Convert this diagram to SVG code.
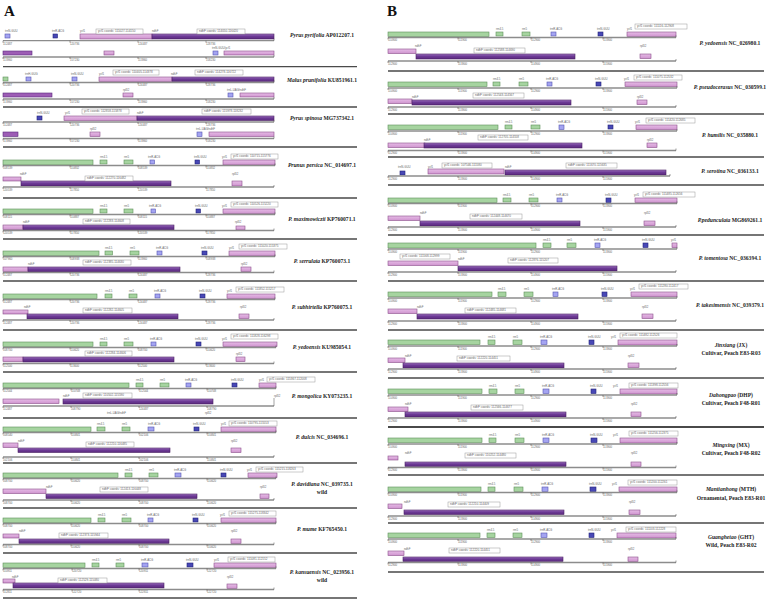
<svg xmlns="http://www.w3.org/2000/svg" width="778" height="602" viewBox="0 0 778 602">
<defs>
<linearGradient id="ng" x1="0" y1="0" x2="0" y2="1"><stop offset="0" stop-color="#a47cc4"/><stop offset="0.4" stop-color="#6f3c98"/><stop offset="1" stop-color="#5a2a7e"/></linearGradient>
<linearGradient id="pg" x1="0" y1="0" x2="0" y2="1"><stop offset="0" stop-color="#e6bce6"/><stop offset="1" stop-color="#cf94cf"/></linearGradient>
<style>
.g{fill:#a6d4a0;stroke:#5f8f5a;stroke-width:.6}
.b{fill:#a4a4f2;stroke:#5555b0;stroke-width:.6}
.d{fill:#4848b6;stroke:#22227a;stroke-width:.6}
.p{fill:url(#pg);stroke:#8a4f8a;stroke-width:.6}
.m{fill:#9d5db5;stroke:#5a2a7e;stroke-width:.6}
.n{fill:url(#ng);stroke:#4a2063;stroke-width:.6}
.ax{stroke:#8c8c8c;stroke-width:1.3;fill:none}
.tk{stroke:#444;stroke-width:.5;fill:none}
.sep{stroke:#4a4a4a;stroke-width:1.3}
.t{font-family:"Liberation Sans",Arial,sans-serif;font-size:2.8px;fill:#666}
.co{fill:#fff;stroke:#999;stroke-width:.5}
.ct{font-family:"Liberation Sans",Arial,sans-serif;font-size:3px;fill:#666}
.nm{font-family:"Liberation Serif","Times New Roman",serif;font-size:5.6px;font-weight:bold;fill:#222;text-anchor:middle}
.it{font-style:italic}
.hd{font-family:"Liberation Serif","Times New Roman",serif;font-size:15px;font-weight:bold;fill:#111}
</style>
</defs>
<rect width="778" height="602" fill="#fff"/>
<text class="hd" x="4" y="16">A</text>
<text class="hd" x="387" y="16">B</text>

<!-- ================= PANEL A ================= -->
<g id="A1">
<text class="t" y="32"><tspan x="5">trnN-GUU</tspan><tspan x="52">trnR-ACG</tspan><tspan x="80">ycf1</tspan><tspan x="152">ndhF</tspan></text>
<rect class="b" x="5" y="34" width="5" height="4"/><rect class="d" x="53" y="34" width="4.5" height="4"/>
<rect class="p" x="80" y="34" width="72" height="5"/><rect class="n" x="152" y="34" width="122" height="5"/>
<rect class="co" x="96" y="29" width="47" height="5"/><text class="ct" x="98" y="32.4">ycf1 coords: 111027-114150</text>
<rect class="co" x="197" y="29" width="48" height="5"/><text class="ct" x="199" y="32.4">ndhF coords: 114050-116420</text>
<path class="ax" d="M3 40.7H274"/><path class="tk" d="M3 40.7v2M70 40.7v2M138 40.7v2M206 40.7v2M274 40.7v-2"/>
<text class="t" y="44.5"><tspan x="3">112487</tspan><tspan x="70">120736</tspan><tspan x="138">124487</tspan><tspan x="206">128736</tspan></text>
<text class="t" y="49"><tspan x="212">trnN-GUU/ycf1</tspan></text>
<rect class="m" x="3" y="51" width="29" height="4"/><rect class="p" x="104" y="51" width="10" height="4"/>
<rect class="b" x="213" y="51" width="5" height="4"/><rect class="p" x="224" y="51" width="50" height="4"/>
<path class="ax" d="M3 57H274"/><path class="tk" d="M3 57v2M70 57v2M138 57v2M206 57v2M274 57v-2"/>
<text class="t" y="60.7"><tspan x="3">113960</tspan><tspan x="70">157230</tspan><tspan x="138">113960</tspan><tspan x="206">158230</tspan></text>
<text class="nm" x="322" y="36.5"><tspan class="it">Pyrus pyrifolia</tspan> AP012207.1</text>
</g>

<g id="A2">
<text class="t" y="75"><tspan x="25">trnH-GUG</tspan><tspan x="71">trnN-GUU</tspan><tspan x="99">ycf1</tspan><tspan x="171">ndhF</tspan></text>
<rect class="g" x="3" y="77" width="5" height="4"/><rect class="b" x="26" y="77" width="5" height="4"/><rect class="b" x="72" y="77" width="5" height="4"/>
<rect class="p" x="99" y="77" width="73" height="4.5"/><rect class="n" x="172" y="77" width="102" height="4.5"/>
<rect class="co" x="113" y="70" width="46" height="5"/><text class="ct" x="115" y="73.4">ycf1 coords: 110405-114378</text>
<rect class="co" x="195" y="70" width="48" height="5"/><text class="ct" x="197" y="73.4">ndhF coords: 114278-116722</text>
<path class="ax" d="M3 82.5H274"/><path class="tk" d="M3 82.5v2M70 82.5v2M138 82.5v2M206 82.5v2M274 82.5v-2"/>
<text class="t" y="86.3"><tspan x="3">112487</tspan><tspan x="70">120736</tspan><tspan x="138">124487</tspan><tspan x="206">128736</tspan></text>
<text class="t" y="91"><tspan x="123">rpl32</tspan><tspan x="227">trnL-UAG/ndhF</tspan></text>
<rect class="m" x="3" y="93" width="49" height="4"/><rect class="p" x="123" y="93" width="10" height="4"/>
<rect class="b" x="228" y="93" width="5" height="4"/><rect class="p" x="240" y="93" width="34" height="4"/>
<path class="ax" d="M3 99H274"/><path class="tk" d="M3 99v2M70 99v2M138 99v2M206 99v2M274 99v-2"/>
<text class="t" y="102.7"><tspan x="3">113960</tspan><tspan x="70">157230</tspan><tspan x="138">113960</tspan><tspan x="206">158230</tspan></text>
<text class="nm" x="322" y="81.5"><tspan class="it">Malus prunifolia</tspan> KU851961.1</text>
</g>

<g id="A3">
<text class="t" y="114"><tspan x="37">trnN-GUU</tspan><tspan x="65">ycf1</tspan><tspan x="137">ndhF</tspan></text>
<rect class="d" x="37" y="116" width="5" height="4"/>
<rect class="p" x="64" y="116" width="73" height="4.5"/><rect class="n" x="137" y="116" width="137" height="4.5"/>
<rect class="co" x="82" y="109" width="47" height="5"/><text class="ct" x="84" y="112.4">ycf1 coords: 112858-115878</text>
<rect class="co" x="202" y="109" width="49" height="5"/><text class="ct" x="204" y="112.4">ndhF coords: 115978-118232</text>
<path class="ax" d="M3 122H274"/><path class="tk" d="M3 122v2M70 122v2M138 122v2M206 122v2M274 122v-2"/>
<text class="t" y="125.8"><tspan x="3">112487</tspan><tspan x="70">120736</tspan><tspan x="138">124487</tspan><tspan x="206">128736</tspan></text>
<text class="t" y="130"><tspan x="90">rpl32</tspan><tspan x="196">trnL-UAG/ndhF</tspan></text>
<rect class="m" x="3" y="132" width="15" height="4.5"/><rect class="p" x="90" y="132" width="10" height="4.5"/>
<rect class="b" x="197" y="132" width="5" height="4.5"/><rect class="p" x="209" y="132" width="65" height="4.5"/>
<path class="ax" d="M3 138.5H274"/><path class="tk" d="M3 138.5v2M70 138.5v2M138 138.5v2M206 138.5v2M274 138.5v-2"/>
<text class="t" y="142"><tspan x="3">113960</tspan><tspan x="70">157230</tspan><tspan x="138">113960</tspan><tspan x="206">158230</tspan></text>
<text class="nm" x="322" y="120"><tspan class="it">Pyrus spinosa</tspan> MG737342.1</text>
</g>

<g id="A4">
<text class="t" y="158"><tspan x="100">rrn4.5</tspan><tspan x="124">rrn5</tspan><tspan x="148">trnR-ACG</tspan><tspan x="194">trnN-GUU</tspan><tspan x="222">ycf1</tspan></text>
<rect class="g" x="3" y="160" width="90" height="5"/><rect class="g" x="100" y="160" width="7" height="4"/><rect class="g" x="124" y="160" width="9" height="4"/>
<rect class="b" x="150" y="160" width="4.5" height="4"/><rect class="d" x="195" y="160" width="4.5" height="4"/><rect class="p" x="223" y="160" width="52" height="5"/>
<rect class="co" x="231" y="154" width="47" height="5"/><text class="ct" x="233" y="157.4">ycf1 coords: 110715-115776</text>
<path class="ax" d="M3 165.5H275"/><path class="tk" d="M3 165.5v2M70 165.5v2M138 165.5v2M206 165.5v2M275 165.5v-2"/>
<text class="t" y="169.2"><tspan x="3">108539</tspan><tspan x="70">110832</tspan><tspan x="138">108539</tspan><tspan x="206">110832</tspan></text>
<text class="t" y="175"><tspan x="20">ndhF</tspan><tspan x="232">rpl32</tspan></text>
<rect class="p" x="3" y="177" width="18" height="4"/><rect class="n" x="21" y="181" width="150" height="5"/>
<rect class="co" x="85" y="176" width="48" height="5"/><text class="ct" x="87" y="179.4">ndhF coords: 112270-116482</text>
<rect class="p" x="232" y="181" width="10" height="5"/>
<path class="ax" d="M3 187H274"/><path class="tk" d="M3 187v2M70 187v2M138 187v2M206 187v2M274 187v-2"/>
<text class="t" y="190.7"><tspan x="3">120539</tspan><tspan x="70">117850</tspan><tspan x="138">120539</tspan><tspan x="206">117850</tspan></text>
<text class="nm" x="322" y="167"><tspan class="it">Prunus persica</tspan> NC_014697.1</text>
</g>

<g id="A5">
<text class="t" y="207"><tspan x="100">rrn4.5</tspan><tspan x="124">rrn5</tspan><tspan x="149">trnR-ACG</tspan><tspan x="195">trnN-GUU</tspan><tspan x="222">ycf1</tspan></text>
<rect class="g" x="3" y="209" width="90" height="4.5"/><rect class="g" x="100" y="209" width="7" height="4"/><rect class="g" x="124" y="209" width="9" height="4"/>
<rect class="b" x="151" y="209" width="4.5" height="4"/><rect class="d" x="196" y="209" width="4.5" height="4"/><rect class="p" x="223" y="209" width="52" height="4.5"/>
<rect class="co" x="231" y="202" width="47" height="5"/><text class="ct" x="233" y="205.4">ycf1 coords: 110526-115220</text>
<path class="ax" d="M3 214.5H275"/><path class="tk" d="M3 214.5v2M70 214.5v2M138 214.5v2M206 214.5v2M275 214.5v-2"/>
<text class="t" y="218.2"><tspan x="3">108115</tspan><tspan x="70">110887</tspan><tspan x="138">108115</tspan><tspan x="206">110887</tspan></text>
<text class="t" y="222.5"><tspan x="23">ndhF</tspan><tspan x="235">rpl32</tspan></text>
<rect class="p" x="3" y="225" width="20" height="4.5"/><rect class="n" x="23" y="225" width="151" height="5"/>
<rect class="co" x="83" y="219" width="47" height="5"/><text class="ct" x="85" y="222.4">ndhF coords: 112283-114608</text>
<rect class="p" x="236" y="226" width="9" height="4"/>
<path class="ax" d="M3 230.5H274"/><path class="tk" d="M3 230.5v2M70 230.5v2M138 230.5v2M206 230.5v2M274 230.5v-2"/>
<text class="t" y="234.2"><tspan x="3">120539</tspan><tspan x="70">117850</tspan><tspan x="138">120539</tspan><tspan x="206">117850</tspan></text>
<text class="nm" x="322" y="221"><tspan class="it">P. maximowiczii</tspan> KP760071.1</text>
</g>

<g id="A6">
<text class="t" y="249"><tspan x="105">rrn4.5</tspan><tspan x="130">rrn5</tspan><tspan x="156">trnR-ACG</tspan><tspan x="201">trnN-GUU</tspan><tspan x="229">ycf1</tspan></text>
<rect class="g" x="3" y="251" width="96" height="4.5"/><rect class="g" x="105" y="251" width="7.5" height="4"/><rect class="g" x="130" y="251" width="9" height="4"/>
<rect class="b" x="157" y="251" width="5" height="4"/><rect class="d" x="202" y="251" width="5" height="4"/><rect class="p" x="229" y="251" width="46" height="5"/>
<rect class="co" x="239" y="244" width="48" height="5"/><text class="ct" x="241" y="247.4">ycf1 coords: 111020-115375</text>
<path class="ax" d="M3 256.5H275"/><path class="tk" d="M3 256.5v2M70 256.5v2M138 256.5v2M206 256.5v2M275 256.5v-2"/>
<text class="t" y="260.2"><tspan x="3">107960</tspan><tspan x="70">108938</tspan><tspan x="138">113960</tspan><tspan x="206">108938</tspan></text>
<text class="t" y="265"><tspan x="28">ndhF</tspan><tspan x="241">rpl32</tspan></text>
<rect class="p" x="3" y="267" width="25" height="4.5"/><rect class="n" x="28" y="267" width="152" height="5"/>
<rect class="co" x="83" y="260" width="48" height="5"/><text class="ct" x="85" y="263.4">ndhF coords: 112385-114630</text>
<rect class="p" x="241" y="267" width="10" height="4.5"/>
<path class="ax" d="M3 272.5H274"/><path class="tk" d="M3 272.5v2M70 272.5v2M138 272.5v2M206 272.5v2M274 272.5v-2"/>
<text class="t" y="276.2"><tspan x="3">112487</tspan><tspan x="70">120736</tspan><tspan x="138">124487</tspan><tspan x="206">128736</tspan></text>
<text class="nm" x="322" y="263"><tspan class="it">P. serrulata</tspan> KP760073.1</text>
</g>

<g id="A7">
<text class="t" y="292"><tspan x="105">rrn4.5</tspan><tspan x="129">rrn5</tspan><tspan x="154">trnR-ACG</tspan><tspan x="199">trnN-GUU</tspan><tspan x="227">ycf1</tspan></text>
<rect class="g" x="3" y="294" width="94" height="4.5"/><rect class="g" x="105" y="294" width="7" height="4"/><rect class="g" x="129" y="294" width="8" height="4"/>
<rect class="b" x="155" y="294" width="5" height="4"/><rect class="d" x="200" y="294" width="5" height="4"/><rect class="p" x="227" y="294" width="48" height="4.5"/>
<rect class="co" x="236" y="287" width="48" height="5"/><text class="ct" x="238" y="290.4">ycf1 coords: 111852-115217</text>
<path class="ax" d="M3 299.5H275"/><path class="tk" d="M3 299.5v2M70 299.5v2M138 299.5v2M206 299.5v2M275 299.5v-2"/>
<text class="t" y="303"><tspan x="3">112487</tspan><tspan x="70">120736</tspan><tspan x="138">124487</tspan><tspan x="206">128736</tspan></text>
<text class="t" y="308"><tspan x="24">ndhF</tspan><tspan x="240">rpl32</tspan></text>
<rect class="p" x="3" y="310" width="25" height="4"/><rect class="n" x="27" y="314" width="151" height="5"/>
<rect class="co" x="83" y="308" width="49" height="5"/><text class="ct" x="85" y="311.4">ndhF coords: 112282-114605</text>
<rect class="p" x="239" y="314" width="10" height="4.5"/>
<path class="ax" d="M3 320H274"/><path class="tk" d="M3 320v2M70 320v2M138 320v2M206 320v2M274 320v-2"/>
<text class="t" y="323.7"><tspan x="3">112487</tspan><tspan x="70">120736</tspan><tspan x="138">124487</tspan><tspan x="206">128736</tspan></text>
<text class="nm" x="322" y="309"><tspan class="it">P. subhirtella</tspan> KP760075.1</text>
</g>

<g id="A8">
<text class="t" y="340"><tspan x="100">rrn4.5</tspan><tspan x="124">rrn5</tspan><tspan x="150">trnR-ACG</tspan><tspan x="195">trnN-GUU</tspan><tspan x="222">ycf1</tspan></text>
<rect class="g" x="3" y="342" width="90" height="4.5"/><rect class="g" x="100" y="342" width="7" height="4"/><rect class="g" x="124" y="342" width="9" height="4"/>
<rect class="b" x="151" y="342" width="5" height="4"/><rect class="d" x="196" y="342" width="5" height="4"/><rect class="p" x="223" y="342" width="54" height="4.5"/>
<rect class="co" x="231" y="334" width="47" height="5"/><text class="ct" x="233" y="337.4">ycf1 coords: 111828-116298</text>
<path class="ax" d="M3 347.5H276"/><path class="tk" d="M3 347.5v2M70 347.5v2M138 347.5v2M206 347.5v2M276 347.5v-2"/>
<text class="t" y="351.2"><tspan x="3">108700</tspan><tspan x="70">110620</tspan><tspan x="138">108700</tspan><tspan x="206">110620</tspan></text>
<text class="t" y="355"><tspan x="236">rpl32</tspan></text>
<rect class="p" x="3" y="357" width="20" height="4.5"/><rect class="n" x="23" y="357" width="151" height="5"/>
<rect class="co" x="85" y="351" width="47" height="5"/><text class="ct" x="87" y="354.4">ndhF coords: 112284-114606</text>
<rect class="p" x="236" y="357" width="9" height="4.5"/>
<path class="ax" d="M3 363.5H274"/><path class="tk" d="M3 363.5v2M70 363.5v2M138 363.5v2M206 363.5v2M274 363.5v-2"/>
<text class="t" y="367.2"><tspan x="3">112500</tspan><tspan x="70">113600</tspan><tspan x="138">112500</tspan><tspan x="206">113600</tspan></text>
<text class="nm" x="322" y="349"><tspan class="it">P. yedoensis</tspan>  KU985054.1</text>
</g>

<g id="A9">
<text class="t" y="381"><tspan x="136">rrn4.5</tspan><tspan x="160">rrn5</tspan><tspan x="185">trnR-ACG</tspan><tspan x="231">trnN-GUU</tspan><tspan x="259">ycf1</tspan></text>
<rect class="g" x="3" y="383" width="126" height="4.5"/><rect class="g" x="136" y="383" width="7" height="4"/><rect class="g" x="160" y="383" width="9" height="4"/>
<rect class="b" x="186" y="383" width="5" height="4"/><rect class="d" x="232" y="383" width="5" height="4"/><rect class="p" x="259" y="383" width="17" height="4.5"/>
<rect class="co" x="267" y="377" width="48" height="5"/><text class="ct" x="269" y="380.4">ycf1 coords: 115367-112008</text>
<path class="ax" d="M3 388.5H276"/><path class="tk" d="M3 388.5v2M71 388.5v2M139 388.5v2M207 388.5v2M276 388.5v-2"/>
<text class="t" y="392.2"><tspan x="3">112544</tspan><tspan x="71">110748</tspan><tspan x="139">112544</tspan><tspan x="207">110748</tspan></text>
<text class="t" y="397"><tspan x="63">ndhF</tspan><tspan x="274">rpl32</tspan></text>
<rect class="p" x="3" y="399" width="56" height="4.5"/><rect class="n" x="63" y="399" width="150" height="5"/>
<rect class="co" x="83" y="393" width="49" height="5"/><text class="ct" x="85" y="396.4">ndhF coords: 110502-115590</text>
<path class="ax" d="M3 406H274"/><path class="tk" d="M3 406v2M71 406v2M139 406v2M207 406v2M274 406v-8"/>
<text class="t" y="409.7"><tspan x="3">112487</tspan><tspan x="71">108790</tspan><tspan x="139">124487</tspan><tspan x="207">108790</tspan></text>
<text class="t" y="414"><tspan x="107">trnL-UAG/ndhF</tspan><tspan x="205">rpl32</tspan></text>
<text class="nm" x="322" y="398"><tspan class="it">P. mongolica</tspan> KY073235.1</text>
</g>

<g id="A10">
<text class="t" y="425"><tspan x="97">rrn4.5</tspan><tspan x="122">rrn5</tspan><tspan x="148">trnR-ACG</tspan><tspan x="193">trnN-GUU</tspan><tspan x="221">ycf1</tspan></text>
<rect class="g" x="3" y="427" width="88" height="4.5"/><rect class="g" x="97" y="427" width="8" height="4"/><rect class="g" x="122" y="427" width="8" height="4"/>
<rect class="b" x="148" y="427" width="6" height="4"/><rect class="d" x="194" y="427" width="5" height="4"/><rect class="p" x="221" y="427" width="55" height="5"/>
<rect class="co" x="229" y="421" width="48" height="5"/><text class="ct" x="231" y="424.4">ycf1 coords: 110795-115553</text>
<path class="ax" d="M3 432.5H276"/><path class="tk" d="M3 432.5v2M71 432.5v2M139 432.5v2M207 432.5v2M276 432.5v-2"/>
<text class="t" y="436.2"><tspan x="3">108540</tspan><tspan x="71">110841</tspan><tspan x="139">102106</tspan><tspan x="207">110841</tspan></text>
<text class="t" y="441.5"><tspan x="18">ndhF</tspan><tspan x="231">rpl32</tspan></text>
<rect class="p" x="3" y="443" width="15" height="4.5"/><rect class="n" x="18" y="448" width="152" height="4.5"/>
<rect class="co" x="86" y="442" width="48" height="5"/><text class="ct" x="88" y="445.4">ndhF coords: 112210-116485</text>
<rect class="p" x="231" y="448" width="10" height="4.5"/>
<path class="ax" d="M3 457H274"/><path class="tk" d="M3 457v2M71 457v2M139 457v2M207 457v2M274 457v-2"/>
<text class="t" y="460.7"><tspan x="3">102106</tspan><tspan x="71">110841</tspan><tspan x="139">102106</tspan><tspan x="207">110841</tspan></text>
<text class="nm" x="322" y="439"><tspan class="it">P. dulcis</tspan> NC_034696.1</text>
</g>

<g id="A11">
<text class="t" y="471"><tspan x="125">rrn4.5</tspan><tspan x="149">rrn5</tspan><tspan x="174">trnR-ACG</tspan><tspan x="220">trnN-GUU</tspan><tspan x="247">ycf1</tspan></text>
<rect class="g" x="3" y="473" width="115" height="4.5"/><rect class="g" x="125" y="473" width="7" height="4"/><rect class="g" x="149" y="473" width="9" height="4"/>
<rect class="b" x="175" y="473" width="6" height="4"/><rect class="d" x="221" y="473" width="5" height="4"/><rect class="p" x="248" y="473" width="29" height="4.5"/>
<rect class="co" x="256" y="467" width="47" height="5"/><text class="ct" x="258" y="470.4">ycf1 coords: 115215-118263</text>
<path class="ax" d="M3 478.5H276"/><path class="tk" d="M3 478.5v2M71 478.5v2M139 478.5v2M207 478.5v2M276 478.5v-2"/>
<text class="t" y="482.2"><tspan x="3">108700</tspan><tspan x="71">110620</tspan><tspan x="139">108700</tspan><tspan x="207">110620</tspan></text>
<text class="t" y="487.5"><tspan x="46">ndhF</tspan><tspan x="260">rpl32</tspan></text>
<rect class="p" x="3" y="489" width="43" height="4.5"/><rect class="n" x="46" y="494" width="151" height="4.5"/>
<rect class="co" x="100" y="487" width="48" height="5"/><text class="ct" x="102" y="490.4">ndhF coords: 112413-116448</text>
<rect class="p" x="260" y="494" width="9" height="4.5"/>
<path class="ax" d="M3 500H274"/><path class="tk" d="M3 500v2M71 500v2M139 500v2M207 500v2M274 500v-2"/>
<text class="t" y="503.7"><tspan x="3">108700</tspan><tspan x="71">110620</tspan><tspan x="139">108700</tspan><tspan x="207">110620</tspan></text>
<text class="nm" x="322" y="486"><tspan class="it">P. davidiana</tspan> NC_039735.1</text>
<text class="nm" x="322" y="494">wild</text>
</g>

<g id="A12">
<text class="t" y="516"><tspan x="98">rrn4.5</tspan><tspan x="122">rrn5</tspan><tspan x="147">trnR-ACG</tspan><tspan x="192">trnN-GUU</tspan><tspan x="220">ycf1</tspan></text>
<rect class="g" x="3" y="518" width="88" height="4.5"/><rect class="g" x="98" y="518" width="7" height="4"/><rect class="g" x="122" y="518" width="9" height="4"/>
<rect class="b" x="148" y="518" width="5" height="4"/><rect class="d" x="193" y="518" width="5" height="4"/><rect class="p" x="221" y="518" width="55" height="4.5"/>
<rect class="co" x="229" y="511" width="47" height="5"/><text class="ct" x="231" y="514.4">ycf1 coords: 115275-118342</text>
<path class="ax" d="M3 523.5H276"/><path class="tk" d="M3 523.5v2M71 523.5v2M139 523.5v2M207 523.5v2M276 523.5v-2"/>
<text class="t" y="527.2"><tspan x="3">108700</tspan><tspan x="71">110620</tspan><tspan x="139">108700</tspan><tspan x="207">110620</tspan></text>
<text class="t" y="532"><tspan x="19">ndhF</tspan><tspan x="231">rpl32</tspan></text>
<rect class="p" x="3" y="534" width="16" height="4"/><rect class="n" x="19" y="539" width="150" height="4.5"/>
<rect class="co" x="59" y="533" width="49" height="5"/><text class="ct" x="61" y="536.4">ndhF coords: 112373-115944</text>
<rect class="p" x="231" y="539" width="10" height="4.5"/>
<path class="ax" d="M3 544.5H274"/><path class="tk" d="M3 544.5v2M71 544.5v2M139 544.5v2M207 544.5v2M274 544.5v-2"/>
<text class="t" y="548.2"><tspan x="3">108700</tspan><tspan x="71">110620</tspan><tspan x="139">108700</tspan><tspan x="207">110620</tspan></text>
<text class="nm" x="322" y="531"><tspan class="it">P. mume</tspan> KF765450.1</text>
</g>

<g id="A13">
<text class="t" y="561"><tspan x="92">rrn4.5</tspan><tspan x="116">rrn5</tspan><tspan x="141">trnR-ACG</tspan><tspan x="186">trnN-GUU</tspan><tspan x="214">ycf1</tspan></text>
<rect class="g" x="3" y="563" width="82" height="4.5"/><rect class="g" x="92" y="563" width="7" height="4"/><rect class="g" x="116" y="563" width="8" height="4"/>
<rect class="b" x="142" y="563" width="6" height="4"/><rect class="d" x="187" y="563" width="6" height="4"/><rect class="p" x="214" y="563" width="62" height="4.5"/>
<rect class="co" x="228" y="557" width="47" height="5"/><text class="ct" x="230" y="560.4">ycf1 coords: 111081-112152</text>
<path class="ax" d="M3 568.5H276"/><path class="tk" d="M3 568.5v2M72 568.5v2M139 568.5v2M207 568.5v2M276 568.5v-2"/>
<text class="t" y="572.2"><tspan x="3">110911</tspan><tspan x="72">120720</tspan><tspan x="139">120911</tspan><tspan x="207">122720</tspan></text>
<text class="t" y="577.5"><tspan x="12">ndhF</tspan><tspan x="227">rpl32</tspan></text>
<rect class="p" x="3" y="579" width="12" height="4"/><rect class="n" x="13" y="583" width="151" height="5"/>
<rect class="co" x="58" y="578" width="49" height="5"/><text class="ct" x="60" y="581.4">ndhF coords: 112529-115080</text>
<rect class="p" x="227" y="584" width="10" height="4.5"/>
<path class="ax" d="M3 589.5H274"/><path class="tk" d="M3 589.5v2M72 589.5v2M139 589.5v2M207 589.5v2M274 589.5v-2"/>
<text class="t" y="593.2"><tspan x="3">112811</tspan><tspan x="72">122720</tspan><tspan x="139">122811</tspan><tspan x="207">122720</tspan></text>
<text class="nm" x="322" y="574"><tspan class="it">P. kansuensis</tspan> NC_023956.1</text>
<text class="nm" x="322" y="581.5">wild</text>
</g>

<!-- ================= PANEL B ================= -->
<g id="B1">
<text class="t" y="30"><tspan x="496">rrn4.5</tspan><tspan x="522">rrn5</tspan><tspan x="550">trnR-ACG</tspan><tspan x="597">trnN-GUU</tspan><tspan x="627">ycf1</tspan></text>
<rect class="g" x="388" y="32" width="101" height="4.5"/><rect class="g" x="496" y="32" width="7" height="4"/><rect class="g" x="522" y="32" width="8" height="4"/>
<rect class="b" x="551" y="32" width="5" height="4"/><rect class="d" x="598" y="32" width="5" height="4"/><rect class="p" x="627" y="32" width="49" height="4.5"/>
<rect class="co" x="635" y="24" width="52" height="5"/><text class="ct" x="637" y="27.4">ycf1 coords: 111116-112908</text>
<path class="ax" d="M388 37.5H676"/><path class="tk" d="M388 37.5v2M458 37.5v2M531 37.5v2M603 37.5v2M676 37.5v-2"/>
<text class="t" y="41.2"><tspan x="388">110900</tspan><tspan x="458">111900</tspan><tspan x="531">112900</tspan><tspan x="603">113900</tspan></text>
<text class="t" y="47"><tspan x="415">ndhF</tspan><tspan x="640">rpl32</tspan></text>
<rect class="p" x="388" y="49" width="28" height="4.5"/><rect class="n" x="416" y="54" width="159" height="5"/>
<rect class="co" x="474" y="48" width="51" height="5"/><text class="ct" x="476" y="51.4">ndhF coords: 112588-114690</text>
<rect class="p" x="640" y="54" width="11" height="4.5"/>
<path class="ax" d="M388 61H676"/><path class="tk" d="M388 61v2M458 61v2M531 61v2M603 61v2M676 61v-2"/>
<text class="t" y="64.7"><tspan x="388">112900</tspan><tspan x="458">113900</tspan><tspan x="531">114900</tspan><tspan x="603">115900</tspan></text>
<text class="nm" x="730" y="45"><tspan class="it">P. yedoensis</tspan> NC_026980.1</text>
</g>

<g id="B2">
<text class="t" y="80"><tspan x="493">rrn4.5</tspan><tspan x="519">rrn5</tspan><tspan x="546">trnR-ACG</tspan><tspan x="595">trnN-GUU</tspan><tspan x="624">ycf1</tspan></text>
<rect class="g" x="388" y="82" width="99" height="4.5"/><rect class="g" x="493" y="82" width="7" height="4"/><rect class="g" x="519" y="82" width="9" height="4"/>
<rect class="b" x="547" y="82" width="5" height="4"/><rect class="d" x="596" y="82" width="5" height="4"/><rect class="p" x="625" y="82" width="52" height="4.5"/>
<rect class="co" x="634" y="75" width="48" height="5"/><text class="ct" x="636" y="78.4">ycf1 coords: 111075-112532</text>
<path class="ax" d="M388 88H677"/><path class="tk" d="M388 88v2M458 88v2M531 88v2M603 88v2M677 88v-2"/>
<text class="t" y="91.7"><tspan x="388">110900</tspan><tspan x="458">111900</tspan><tspan x="531">112900</tspan><tspan x="603">113900</tspan></text>
<text class="t" y="98"><tspan x="412">ndhF</tspan><tspan x="637">rpl32</tspan></text>
<rect class="p" x="388" y="99" width="24" height="4.5"/><rect class="n" x="412" y="100" width="159" height="5"/>
<rect class="co" x="473" y="93" width="51" height="5"/><text class="ct" x="475" y="96.4">ndhF coords: 112543-114567</text>
<rect class="p" x="637" y="100" width="10" height="4.5"/>
<path class="ax" d="M388 107H676"/><path class="tk" d="M388 107v2M458 107v2M531 107v2M603 107v2M676 107v-2"/>
<text class="t" y="110.5"><tspan x="388">112900</tspan><tspan x="458">113900</tspan><tspan x="531">114900</tspan><tspan x="603">115900</tspan></text>
<text class="nm" x="730" y="89"><tspan class="it">P. pseudocerasus</tspan> NC_030599.1</text>
</g>

<g id="B3">
<text class="t" y="123"><tspan x="505">rrn4.5</tspan><tspan x="531">rrn5</tspan><tspan x="558">trnR-ACG</tspan><tspan x="607">trnN-GUU</tspan><tspan x="635">ycf1</tspan></text>
<rect class="g" x="388" y="125" width="110" height="4.5"/><rect class="g" x="505" y="125" width="7" height="4"/><rect class="g" x="531" y="125" width="9" height="4"/>
<rect class="b" x="559" y="125" width="5" height="4.5"/><rect class="d" x="608" y="125" width="5" height="4"/><rect class="p" x="636" y="125" width="41" height="4.5"/>
<rect class="co" x="646" y="118" width="49" height="5"/><text class="ct" x="648" y="121.4">ycf1 coords: 111420-112685</text>
<path class="ax" d="M388 131H677"/><path class="tk" d="M388 131v2M458 131v2M531 131v2M603 131v2M677 131v-2"/>
<text class="t" y="134.7"><tspan x="388">110900</tspan><tspan x="458">111900</tspan><tspan x="531">112900</tspan><tspan x="603">113900</tspan></text>
<text class="t" y="141"><tspan x="424">ndhF</tspan><tspan x="647">rpl32</tspan></text>
<rect class="p" x="388" y="143" width="37" height="4.5"/><rect class="n" x="424" y="143" width="158" height="5"/>
<rect class="co" x="478" y="135" width="50" height="5"/><text class="ct" x="480" y="138.4">ndhF coords: 112705-114558</text>
<rect class="p" x="647" y="143" width="10" height="4.5"/>
<path class="ax" d="M388 150.5H676"/><path class="tk" d="M388 150.5v2M458 150.5v2M531 150.5v2M603 150.5v2M676 150.5v-2"/>
<text class="t" y="154"><tspan x="388">112900</tspan><tspan x="458">113900</tspan><tspan x="531">114900</tspan><tspan x="603">115900</tspan></text>
<text class="nm" x="730" y="137"><tspan class="it">P. humilis</tspan> NC_035880.1</text>
</g>

<g id="B4">
<text class="t" y="167.5"><tspan x="398">trnN-GUU</tspan><tspan x="428">ycf1</tspan><tspan x="505">ndhF</tspan></text>
<rect class="d" x="400" y="171" width="5" height="4"/>
<rect class="p" x="428" y="169" width="76" height="5"/><rect class="n" x="505" y="170" width="161" height="5"/>
<rect class="co" x="442" y="163" width="50" height="5"/><text class="ct" x="444" y="166.4">ycf1 coords: 107546-111580</text>
<rect class="co" x="566" y="163" width="51" height="5"/><text class="ct" x="568" y="166.4">ndhF coords: 111670-115635</text>
<path class="ax" d="M388 176H670"/><path class="tk" d="M388 176v2M458 176v2M531 176v2M603 176v2M670 176v-2"/>
<text class="t" y="179.7"><tspan x="388">112900</tspan><tspan x="458">113900</tspan><tspan x="531">114900</tspan><tspan x="603">115900</tspan></text>
<text class="nm" x="730" y="173"><tspan class="it">P. serotina</tspan> NC_036133.1</text>
</g>

<g id="B5">
<text class="t" y="196"><tspan x="503">rrn4.5</tspan><tspan x="529">rrn5</tspan><tspan x="556">trnR-ACG</tspan><tspan x="605">trnN-GUU</tspan><tspan x="634">ycf1</tspan></text>
<rect class="g" x="388" y="198" width="109" height="4.5"/><rect class="g" x="503" y="198" width="8" height="4"/><rect class="g" x="529" y="198" width="9" height="4"/>
<rect class="b" x="557" y="198" width="5" height="4"/><rect class="d" x="606" y="198" width="5" height="4.5"/><rect class="p" x="635" y="198" width="42" height="4.5"/>
<rect class="co" x="643" y="192" width="52" height="5"/><text class="ct" x="645" y="195.4">ycf1 coords: 111485-112656</text>
<path class="ax" d="M388 203.5H677"/><path class="tk" d="M388 203.5v2M458 203.5v2M531 203.5v2M603 203.5v2M677 203.5v-2"/>
<text class="t" y="207.2"><tspan x="388">110900</tspan><tspan x="458">111900</tspan><tspan x="531">112900</tspan><tspan x="603">113900</tspan></text>
<text class="t" y="213.5"><tspan x="420">ndhF</tspan><tspan x="644">rpl32</tspan></text>
<rect class="p" x="388" y="216" width="32" height="4.5"/><rect class="n" x="420" y="221" width="160" height="5"/>
<rect class="co" x="470" y="214" width="52" height="5"/><text class="ct" x="472" y="217.4">ndhF coords: 112448-114670</text>
<rect class="p" x="644" y="221" width="11" height="4.5"/>
<path class="ax" d="M388 227H676"/><path class="tk" d="M388 227v2M458 227v2M531 227v2M603 227v2M676 227v-2"/>
<text class="t" y="230.7"><tspan x="388">112900</tspan><tspan x="458">113900</tspan><tspan x="531">114900</tspan><tspan x="603">115900</tspan></text>
<text class="nm" x="730" y="222"><tspan class="it">P.pedunculata</tspan> MG869261.1</text>
</g>

<g id="B6">
<text class="t" y="241"><tspan x="543">rrn4.5</tspan><tspan x="567">rrn5</tspan><tspan x="594">trnR-ACG</tspan><tspan x="642">trnN-GUU</tspan><tspan x="671">ycf1</tspan></text>
<rect class="g" x="388" y="243" width="148" height="5"/><rect class="g" x="543" y="243" width="8" height="4.5"/><rect class="g" x="567" y="243" width="9" height="4.5"/>
<rect class="b" x="595" y="243" width="5" height="4.5"/><rect class="d" x="643" y="243" width="5" height="4.5"/><rect class="p" x="672" y="243" width="5" height="4.5"/>
<path class="ax" d="M388 249H677"/><path class="tk" d="M388 249v2M458 249v2M531 249v2M603 249v2M677 249v-2"/>
<text class="t" y="252.7"><tspan x="388">110900</tspan><tspan x="458">111900</tspan><tspan x="531">112900</tspan><tspan x="603">113900</tspan></text>
<rect class="p" x="388" y="261" width="70" height="4.5"/>
<rect class="co" x="400" y="254" width="50" height="5"/><text class="ct" x="402" y="257.4">ycf1 coords: 111568-112999</text>
<text class="t" y="260"><tspan x="458">ndhF</tspan></text>
<rect class="n" x="458" y="266" width="159" height="5"/>
<rect class="co" x="508" y="258" width="50" height="5"/><text class="ct" x="510" y="261.4">ndhF coords: 112876-115207</text>
<path class="ax" d="M388 272H676"/><path class="tk" d="M388 272v2M458 272v2M531 272v2M603 272v2M676 272v-2"/>
<text class="t" y="275.7"><tspan x="388">112900</tspan><tspan x="458">113900</tspan><tspan x="531">114900</tspan><tspan x="603">115900</tspan></text>
<text class="nm" x="730" y="260"><tspan class="it">P. tomentosa</tspan> NC_036394.1</text>
</g>

<g id="B7">
<text class="t" y="290"><tspan x="498">rrn4.5</tspan><tspan x="524">rrn5</tspan><tspan x="552">trnR-ACG</tspan><tspan x="601">trnN-GUU</tspan><tspan x="630">ycf1</tspan></text>
<rect class="g" x="388" y="292" width="104" height="4.5"/><rect class="g" x="498" y="292" width="8" height="4.5"/><rect class="g" x="524" y="292" width="9" height="4.5"/>
<rect class="b" x="553" y="292" width="5" height="4.5"/><rect class="d" x="602" y="292" width="5" height="4.5"/><rect class="p" x="631" y="292" width="46" height="4.5"/>
<rect class="co" x="639" y="284" width="49" height="5"/><text class="ct" x="641" y="287.4">ycf1 coords: 111280-112417</text>
<path class="ax" d="M388 298H677"/><path class="tk" d="M388 298v2M458 298v2M531 298v2M603 298v2M677 298v-2"/>
<text class="t" y="301.7"><tspan x="388">110900</tspan><tspan x="458">111900</tspan><tspan x="531">112900</tspan><tspan x="603">113900</tspan></text>
<text class="t" y="307.5"><tspan x="417">ndhF</tspan><tspan x="642">rpl32</tspan></text>
<rect class="p" x="388" y="309" width="29" height="4.5"/><rect class="n" x="417" y="314" width="161" height="5"/>
<rect class="co" x="465" y="308" width="51" height="5"/><text class="ct" x="467" y="311.4">ndhF coords: 112485-114681</text>
<rect class="p" x="642" y="314" width="11" height="4.5"/>
<path class="ax" d="M388 321H676"/><path class="tk" d="M388 321v2M458 321v2M531 321v2M603 321v2M676 321v-2"/>
<text class="t" y="324.5"><tspan x="388">112900</tspan><tspan x="458">113900</tspan><tspan x="531">114900</tspan><tspan x="603">115900</tspan></text>
<text class="nm" x="730" y="307"><tspan class="it">P. takesimensis</tspan> NC_039379.1</text>
</g>

<g id="B8">
<text class="t" y="338"><tspan x="488">rrn4.5</tspan><tspan x="513">rrn5</tspan><tspan x="540">trnR-ACG</tspan><tspan x="588">trnN-GUU</tspan><tspan x="611">ycf1</tspan></text>
<rect class="g" x="388" y="340" width="92" height="4.5"/><rect class="g" x="488" y="340" width="7" height="4.5"/><rect class="g" x="513" y="340" width="9" height="4.5"/>
<rect class="b" x="541" y="340" width="6" height="4.5"/><rect class="d" x="589" y="340" width="5" height="4.5"/><rect class="p" x="618" y="340" width="59" height="5"/>
<rect class="co" x="620" y="333" width="57" height="5"/><text class="ct" x="622" y="336.4">ycf1 coords: 111482-112526</text>
<path class="ax" d="M388 346H677"/><path class="tk" d="M388 346v2M458 346v2M531 346v2M603 346v2M677 346v-2"/>
<text class="t" y="349.7"><tspan x="388">110900</tspan><tspan x="458">111900</tspan><tspan x="531">112900</tspan><tspan x="603">113900</tspan></text>
<text class="t" y="356.5"><tspan x="405">ndhF</tspan><tspan x="628">rpl32</tspan></text>
<rect class="p" x="388" y="358" width="17" height="4.5"/><rect class="n" x="403" y="363" width="161" height="5"/>
<rect class="co" x="457" y="356" width="53" height="5"/><text class="ct" x="459" y="359.4">ndhF coords: 112220-114451</text>
<rect class="p" x="628" y="363" width="11" height="4.5"/>
<path class="ax" d="M388 369H676"/><path class="tk" d="M388 369v2M458 369v2M531 369v2M603 369v2M676 369v-2"/>
<text class="t" y="372.7"><tspan x="388">112900</tspan><tspan x="458">113900</tspan><tspan x="531">114900</tspan><tspan x="603">115900</tspan></text>
<text class="nm" x="731" y="347"><tspan class="it">Jinxiang</tspan> (JX)</text>
<text class="nm" x="731" y="354.5">Cultivar, Peach E83-R03</text>
</g>

<g id="B9">
<text class="t" y="387"><tspan x="489">rrn4.5</tspan><tspan x="515">rrn5</tspan><tspan x="542">trnR-ACG</tspan><tspan x="590">trnN-GUU</tspan><tspan x="613">ycf1</tspan></text>
<rect class="g" x="388" y="389" width="94" height="4.5"/><rect class="g" x="489" y="389" width="8" height="4.5"/><rect class="g" x="515" y="389" width="9" height="4.5"/>
<rect class="b" x="543" y="389" width="6" height="4.5"/><rect class="d" x="591" y="389" width="5" height="4.5"/><rect class="p" x="620" y="389" width="57" height="5"/>
<rect class="co" x="629" y="383" width="49" height="5"/><text class="ct" x="631" y="386.4">ycf1 coords: 111398-112556</text>
<path class="ax" d="M388 395H677"/><path class="tk" d="M388 395v2M458 395v2M531 395v2M603 395v2M677 395v-2"/>
<text class="t" y="398.7"><tspan x="388">110900</tspan><tspan x="458">111900</tspan><tspan x="531">112900</tspan><tspan x="603">113900</tspan></text>
<text class="t" y="405"><tspan x="405">ndhF</tspan><tspan x="631">rpl32</tspan></text>
<rect class="p" x="388" y="407" width="20" height="4.5"/><rect class="n" x="405" y="412" width="161" height="5"/>
<rect class="co" x="471" y="405" width="52" height="5"/><text class="ct" x="473" y="408.4">ndhF coords: 112566-114677</text>
<rect class="p" x="631" y="412" width="10" height="4.5"/>
<path class="ax" d="M388 418H676"/><path class="tk" d="M388 418v2M458 418v2M531 418v2M603 418v2M676 418v-2"/>
<text class="t" y="421.7"><tspan x="388">112900</tspan><tspan x="458">113900</tspan><tspan x="531">114900</tspan><tspan x="603">115900</tspan></text>
<text class="nm" x="731" y="397"><tspan class="it">Dahongpao</tspan> (DHP)</text>
<text class="nm" x="731" y="404.5">Cultivar, Peach F48-R01</text>
</g>

<g id="B10">
<text class="t" y="436"><tspan x="489">rrn4.5</tspan><tspan x="515">rrn5</tspan><tspan x="542">trnR-ACG</tspan><tspan x="590">trnN-GUU</tspan><tspan x="613">ycf1</tspan></text>
<rect class="g" x="388" y="438" width="94" height="4.5"/><rect class="g" x="489" y="438" width="7" height="4.5"/><rect class="g" x="515" y="438" width="9" height="4.5"/>
<rect class="b" x="543" y="438" width="6" height="4.5"/><rect class="d" x="591" y="438" width="6" height="4.5"/><rect class="p" x="620" y="438" width="57" height="5"/>
<rect class="co" x="629" y="431" width="49" height="5"/><text class="ct" x="631" y="434.4">ycf1 coords: 111256-112375</text>
<path class="ax" d="M388 444H677"/><path class="tk" d="M388 444v2M458 444v2M531 444v2M603 444v2M677 444v-2"/>
<text class="t" y="447.7"><tspan x="388">110900</tspan><tspan x="458">111900</tspan><tspan x="531">112900</tspan><tspan x="603">113900</tspan></text>
<text class="t" y="453.5"><tspan x="405">ndhF</tspan><tspan x="631">rpl32</tspan></text>
<rect class="p" x="388" y="456" width="10" height="4"/><rect class="n" x="405" y="462" width="161" height="4.5"/>
<rect class="co" x="465" y="453" width="51" height="5"/><text class="ct" x="467" y="456.4">ndhF coords: 110252-114480</text>
<rect class="p" x="631" y="462" width="10" height="4.5"/>
<path class="ax" d="M388 467.5H676"/><path class="tk" d="M388 467.5v2M458 467.5v2M531 467.5v2M603 467.5v2M676 467.5v-2"/>
<text class="t" y="471.2"><tspan x="388">112900</tspan><tspan x="458">113900</tspan><tspan x="531">114900</tspan><tspan x="603">115900</tspan></text>
<text class="nm" x="731" y="447"><tspan class="it">Mingxing</tspan> (MX)</text>
<text class="nm" x="731" y="455">Cultivar, Peach  F48-R02</text>
</g>

<g id="B11">
<text class="t" y="485"><tspan x="488">rrn4.5</tspan><tspan x="514">rrn5</tspan><tspan x="541">trnR-ACG</tspan><tspan x="589">trnN-GUU</tspan><tspan x="612">ycf1</tspan></text>
<rect class="g" x="388" y="487" width="93" height="4.5"/><rect class="g" x="488" y="487" width="7" height="4.5"/><rect class="g" x="514" y="487" width="9" height="4.5"/>
<rect class="b" x="542" y="487" width="6" height="4.5"/><rect class="d" x="590" y="487" width="6" height="4.5"/><rect class="p" x="619" y="487" width="58" height="4.5"/>
<rect class="co" x="628" y="480" width="49" height="5"/><text class="ct" x="630" y="483.4">ycf1 coords: 111200-112261</text>
<path class="ax" d="M388 492.5H677"/><path class="tk" d="M388 492.5v2M458 492.5v2M531 492.5v2M603 492.5v2M677 492.5v-2"/>
<text class="t" y="496.2"><tspan x="388">110900</tspan><tspan x="458">111900</tspan><tspan x="531">112900</tspan><tspan x="603">113900</tspan></text>
<text class="t" y="502.5"><tspan x="404">ndhF</tspan><tspan x="629">rpl32</tspan></text>
<rect class="p" x="388" y="504" width="14" height="4.5"/><rect class="n" x="404" y="510" width="160" height="4.5"/>
<rect class="co" x="448" y="502" width="52" height="5"/><text class="ct" x="450" y="505.4">ndhF coords: 112210-114409</text>
<rect class="p" x="629" y="510" width="11" height="4.5"/>
<path class="ax" d="M388 516H676"/><path class="tk" d="M388 516v2M458 516v2M531 516v2M603 516v2M676 516v-2"/>
<text class="t" y="519.7"><tspan x="388">112900</tspan><tspan x="458">113900</tspan><tspan x="531">114900</tspan><tspan x="603">115900</tspan></text>
<text class="nm" x="731" y="491"><tspan class="it">Mantianhong</tspan> (MTH)</text>
<text class="nm" x="731" y="500">Ornamental, Peach E83-R01</text>
</g>

<g id="B12">
<text class="t" y="531"><tspan x="487">rrn4.5</tspan><tspan x="513">rrn5</tspan><tspan x="540">trnR-ACG</tspan><tspan x="588">trnN-GUU</tspan><tspan x="611">ycf1</tspan></text>
<rect class="g" x="388" y="533" width="92" height="4.5"/><rect class="g" x="487" y="533" width="8" height="4.5"/><rect class="g" x="513" y="533" width="9" height="4.5"/>
<rect class="b" x="541" y="533" width="6" height="4.5"/><rect class="d" x="589" y="533" width="5" height="4.5"/><rect class="p" x="617" y="533" width="59" height="5"/>
<rect class="co" x="626" y="527" width="50" height="5"/><text class="ct" x="628" y="530.4">ycf1 coords: 111103-112228</text>
<path class="ax" d="M388 539H676"/><path class="tk" d="M388 539v2M458 539v2M531 539v2M603 539v2M676 539v-2"/>
<text class="t" y="542.7"><tspan x="388">110900</tspan><tspan x="458">111900</tspan><tspan x="531">112900</tspan><tspan x="603">113900</tspan></text>
<text class="t" y="549.5"><tspan x="404">ndhF</tspan><tspan x="628">rpl32</tspan></text>
<rect class="p" x="388" y="551" width="16" height="4.5"/><rect class="n" x="403" y="557" width="160" height="4.5"/>
<rect class="co" x="449" y="548" width="51" height="5"/><text class="ct" x="451" y="551.4">ndhF coords: 112220-114451</text>
<rect class="p" x="628" y="557" width="10" height="4.5"/>
<path class="ax" d="M388 562.5H676"/><path class="tk" d="M388 562.5v2M458 562.5v2M531 562.5v2M603 562.5v2M676 562.5v-2"/>
<text class="t" y="566.2"><tspan x="388">112900</tspan><tspan x="458">113900</tspan><tspan x="531">114900</tspan><tspan x="603">115900</tspan></text>
<text class="nm" x="731" y="539"><tspan class="it">Guanghetao</tspan> (GHT)</text>
<text class="nm" x="731" y="547">Wild, Peach E83-R02</text>
</g>

<g id="separators">
<path class="sep" d="M3 66.7H357M3 107H357M3 147H357M3 198H357M3 239H357M3 281H357M3 330H357M3 372H357M3 418H357M3 463H357M3 508H357M3 553H357M3 598H357"/>
<path class="sep" d="M388 71H764M388 114H764M388 157H764M388 185H764M388 235H764M388 281H764M388 330H764M388 378H764M388 475H764M388 523H764M388 572H764"/>
<path class="sep" style="stroke-width:2.2" d="M388 427H764"/>
</g>
</svg>
